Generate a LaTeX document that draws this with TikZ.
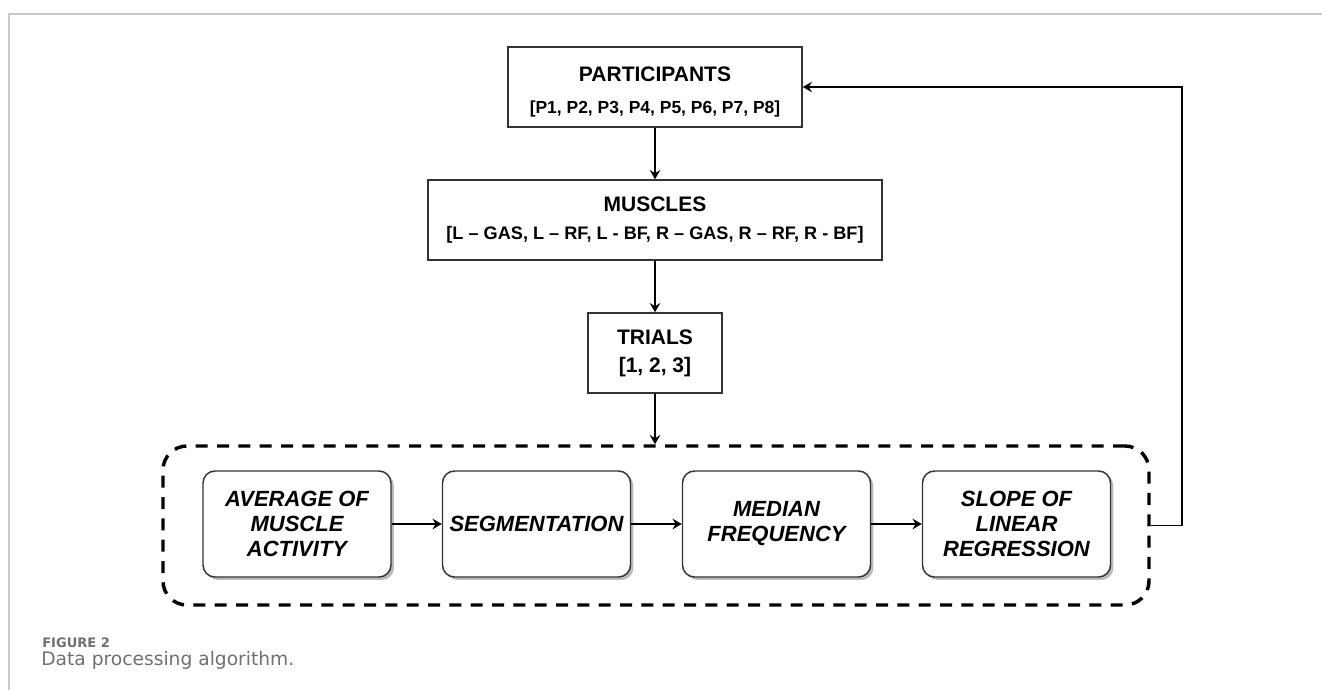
\documentclass[tikz,border=0pt]{standalone}
\usepackage{fontspec}
\setmainfont{Liberation Sans}
\newfontfamily\captionfont{DejaVu Sans}
\usetikzlibrary{arrows.meta,shadows}

\definecolor{boxline}{HTML}{333333}
\definecolor{framegray}{HTML}{CACACA}
\definecolor{capgray}{HTML}{707070}

\tikzset{
  every picture/.style={x=0.75pt,y=-0.75pt},
  headbox/.style={draw=boxline, line width=1.1pt, fill=white, align=center,
    inner sep=0pt, minimum height=60pt},
  stagebox/.style={draw=boxline, line width=1.1pt, fill=white, rounded corners=9pt,
    align=center, inner sep=0pt, minimum width=141pt, minimum height=79.5pt,
    font=\fontsize{16.5}{18.75}\selectfont\bfseries\itshape,
    drop shadow={shadow xshift=2.2pt, shadow yshift=-2.2pt, fill=black!45, opacity=0.6}},
  groupbox/.style={draw=black, line width=2.6pt, dash pattern=on 9pt off 7pt,
    rounded corners=18pt, inner sep=0pt, minimum width=739.5pt, minimum height=119.25pt},
  flow/.style={draw=black, line width=1pt,
    -{Stealth[length=7pt, width=8pt, inset=2.5pt]}},
}

\begin{document}
\begin{tikzpicture}
  % page area and article frame
  \useasboundingbox (0,0) rectangle (1322,690);
  \draw[framegray, line width=1.2pt] (9,690) -- (9,14) -- (1322,14);

  % top hierarchy: participants, muscles, trials
  \node[headbox, minimum width=220.5pt, font=\fontsize{15.75}{24}\selectfont\bfseries] (part) at (655,87)
    {\rule{0pt}{18pt}PARTICIPANTS\\
     {\fontsize{13.1}{24}\selectfont [P1, P2, P3, P4, P5, P6, P7, P8]}};
  \node[headbox, minimum width=340.5pt, font=\fontsize{15.75}{21}\selectfont\bfseries] (musc) at (655,220)
    {MUSCLES\\
     {\fontsize{13.6}{21}\selectfont [L – GAS, L – RF, L - BF, R – GAS, R – RF, R - BF]}};
  \node[headbox, minimum width=100.5pt, font=\fontsize{15.75}{21}\selectfont\bfseries] (trial) at (655,353)
    {TRIALS\\{}[1, 2, 3]};

  % processing group
  \node[groupbox] (grp) at (656,525.5) {};

  \node[stagebox] (avg) at (297,524) {AVERAGE OF\\MUSCLE\\ACTIVITY};
  \node[stagebox] (seg) at (536.5,524) {SEGMENTATION};
  \node[stagebox] (mdf) at (776.5,524) {MEDIAN\\FREQUENCY};
  \node[stagebox] (slope) at (1016.5,524) {SLOPE OF\\LINEAR\\REGRESSION};

  % connectors
  \draw[flow] (part) -- (musc);
  \draw[flow] (musc) -- (trial);
  \draw[flow] (trial.south) -- (trial.south |- grp.north);
  \draw[flow] (avg) -- (seg);
  \draw[flow] (seg) -- (mdf);
  \draw[flow] (mdf) -- (slope);
  \coordinate (loopturn) at (1182,525.5);
  \draw[flow] (grp.east) -- (loopturn) |- (part.east);

  % caption
  \node[anchor=base west, inner sep=0pt, text=capgray,
        font=\captionfont\fontsize{9.8}{12}\selectfont\bfseries] (figlabel) at (42,647) {FIGURE 2};
  \node[anchor=base west, inner sep=0pt, text=capgray,
        font=\captionfont\fontsize{14}{16}\selectfont] (figtext) at (41,665) {Data processing algorithm.};
\end{tikzpicture}
\end{document}
